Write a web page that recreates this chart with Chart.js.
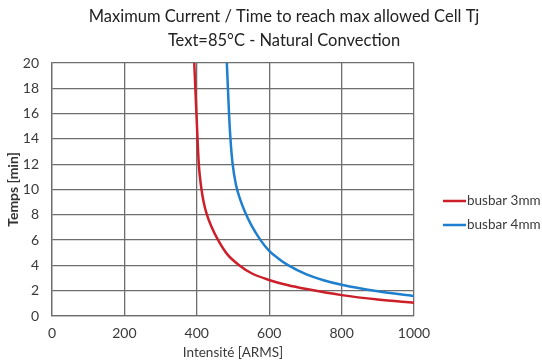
<!DOCTYPE html>
<html>
<head>
<meta charset="utf-8">
<script src="https://cdn.jsdelivr.net/npm/chart.js@4"></script>
<style>
  html, body { margin: 0; padding: 0; background: #fff; }
  #wrap { width: 542px; height: 364px; position: relative; }
</style>
</head>
<body>
<div id="wrap"><canvas id="graficoBusbar"></canvas></div>
<script>
// Valeurs (Intensité en ARMS, Temps en min)
const titre = ['Maximum Current / Time to reach max allowed Cell Tj', 'Text=85°C - Natural Convection'];
const xTicks = [0, 200, 400, 600, 800, 1000];
const yTicks = [0, 2, 4, 6, 8, 10, 12, 14, 16, 18, 20];

const courant3mm = [393, 396, 399, 402, 405.5, 409, 413, 419, 427, 440, 459, 485, 518, 550, 600, 650, 703, 800, 900, 1000];
const temps3mm   = [20, 18, 16, 14, 12, 10.9, 10, 9, 8.1, 7.1, 6, 4.85, 4.0, 3.4, 2.85, 2.45, 2.13, 1.65, 1.3, 1.05];

const courant4mm = [483, 486, 489, 493, 499, 508, 520, 532, 551, 576, 600, 625, 652, 703, 750, 800, 900, 1000];
const temps4mm   = [20, 18, 16, 14, 12, 10.4, 9.2, 8.3, 7.16, 6.0, 5.15, 4.55, 4.02, 3.29, 2.83, 2.47, 1.95, 1.58];

const series = [
    { label: 'busbar 3mm', x: courant3mm, y: temps3mm, cor: '#cc1f2a' },
    { label: 'busbar 4mm', x: courant4mm, y: temps4mm, cor: '#1f7fcf' }
];

const corGrade = '#6e6e6e';
const corTexto = '#3a3a3a';
const fonte = 'Lato, "Open Sans", sans-serif';

// titre + legende dessines a la main (positions comme l'original Excel)
const decor = {
    id: 'decor',
    afterDraw(chart) {
        const ctx = chart.ctx;
        ctx.save();
        ctx.textAlign = 'center';
        ctx.textBaseline = 'middle';
        ctx.fillStyle = '#222';
        ctx.font = '16.5px ' + fonte;
        titre.forEach((t, i) => ctx.fillText(t, 284, 17 + i * 24));

        ctx.textAlign = 'left';
        ctx.font = '13.5px ' + fonte;
        chart.data.datasets.forEach((ds, i) => {
            const y = 201 + i * 24;
            ctx.strokeStyle = ds.borderColor;
            ctx.lineWidth = 2.5;
            ctx.beginPath();
            ctx.moveTo(443, y);
            ctx.lineTo(466, y);
            ctx.stroke();
            ctx.fillStyle = corTexto;
            ctx.fillText(ds.label, 467, y);
        });
        ctx.restore();
    }
};

new Chart(document.getElementById('graficoBusbar'), {
    type: 'scatter',
    data: {
        datasets: series.map(s => ({
            label: s.label,
            data: s.x.map((v, i) => ({ x: v, y: s.y[i] })),
            showLine: true,
            borderColor: s.cor,
            backgroundColor: s.cor,
            borderWidth: 2.5,
            pointRadius: 0,
            cubicInterpolationMode: 'monotone'
        }))
    },
    options: {
        responsive: true,
        maintainAspectRatio: false,
        animation: false,
        layout: { padding: { left: 0, right: 128, top: 63, bottom: 0 } },
        plugins: {
            legend: { display: false },
            tooltip: { enabled: false },
            title: { display: false }
        },
        scales: {
            x: {
                type: 'linear',
                min: 0,
                max: 1000,
                afterBuildTicks: s => { s.ticks = xTicks.map(v => ({ value: v })); },
                afterFit: s => { s.height = 48; },
                grid: { color: corGrade, lineWidth: 1.3, drawTicks: false },
                border: { color: corGrade, width: 1.3 },
                ticks: { color: corTexto, font: { family: fonte, size: 14 }, padding: 9, callback: v => String(v) },
                title: {
                    display: true,
                    text: 'Intensité [ARMS]',
                    color: corTexto,
                    font: { family: fonte, size: 13.5 },
                    padding: { top: 0, bottom: 3 }
                }
            },
            y: {
                type: 'linear',
                min: 0,
                max: 20,
                afterBuildTicks: s => { s.ticks = yTicks.map(v => ({ value: v })); },
                afterFit: s => { s.width = 52; },
                grid: { color: corGrade, lineWidth: 1.3, drawTicks: false },
                border: { color: corGrade, width: 1.3 },
                ticks: { color: corTexto, font: { family: fonte, size: 14 }, padding: 13 },
                title: {
                    display: true,
                    text: 'Temps [min]',
                    color: '#333',
                    font: { family: fonte, size: 14, weight: 'bold' },
                    padding: { top: 5, bottom: 0 }
                }
            }
        }
    },
    plugins: [decor]
});
</script>
</body>
</html>
